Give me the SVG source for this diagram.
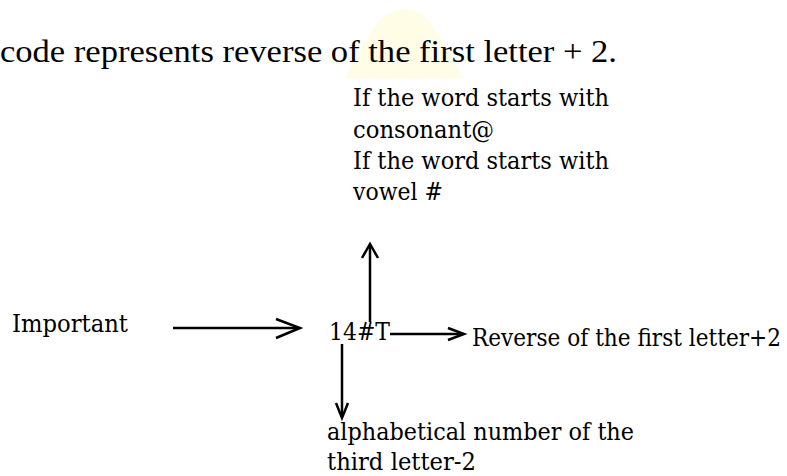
<svg xmlns="http://www.w3.org/2000/svg" width="787" height="476" viewBox="0 0 787 476">
<style>
  .t { font-family: "DejaVu Serif", "Liberation Serif", serif; font-size: 25px; fill: #000; }
  .title { font-family: "Liberation Serif", "DejaVu Serif", serif; font-size: 32px; fill: #000; }
  .ln { stroke: #000; stroke-width: 2.5; fill: none; }
  .hd { stroke: #000; stroke-width: 2.5; fill: none; stroke-linejoin: miter; }
</style>
<rect width="787" height="476" fill="#fff"/>
<path d="M344,78 L376,24 Q404,-6 432,24 L463,78 Z" fill="#fffde6"/>
<text class="title" x="0" y="62" textLength="617" lengthAdjust="spacingAndGlyphs">code represents reverse of the first letter + 2.</text>
<g id="top-note">
  <text class="t" x="353" y="106" textLength="256" lengthAdjust="spacingAndGlyphs">If the word starts with</text>
  <text class="t" x="353" y="138" textLength="141" lengthAdjust="spacingAndGlyphs">consonant@</text>
  <text class="t" x="353" y="169" textLength="256" lengthAdjust="spacingAndGlyphs">If the word starts with</text>
  <text class="t" x="353" y="200" textLength="90" lengthAdjust="spacingAndGlyphs">vowel #</text>
</g>
<g id="important">
  <text class="t" x="12" y="332" textLength="116" lengthAdjust="spacingAndGlyphs">Important</text>
</g>
<g id="code">
  <text class="t" x="329" y="340" textLength="61" lengthAdjust="spacingAndGlyphs">14#T</text>
</g>
<g id="reverse">
  <text class="t" x="472" y="346" textLength="309" lengthAdjust="spacingAndGlyphs">Reverse of the first letter+2</text>
</g>
<g id="alpha">
  <text class="t" x="327" y="440" textLength="307" lengthAdjust="spacingAndGlyphs">alphabetical number of the</text>
  <text class="t" x="327" y="470" textLength="149" lengthAdjust="spacingAndGlyphs">third letter-2</text>
</g>
<g id="connectors">
  <line class="ln" x1="173" y1="328" x2="299" y2="328"/>
  <path class="hd" d="M276,319 L300,328 L276,338"/>
  <line class="ln" x1="370" y1="322" x2="370" y2="245"/>
  <path class="hd" d="M362,258 L370,244 L378,258"/>
  <line class="ln" x1="390" y1="334" x2="463" y2="334"/>
  <path class="hd" d="M448,328 L464,334 L448,340"/>
  <line class="ln" x1="342" y1="344" x2="342" y2="416"/>
  <path class="hd" d="M336,403 L342,418 L348,403"/>
</g>
</svg>
